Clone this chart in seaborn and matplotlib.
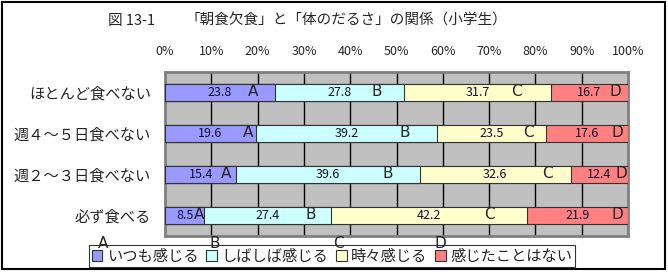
import matplotlib
matplotlib.use("Agg")
import matplotlib.pyplot as plt
from matplotlib.patches import Patch, Rectangle
import seaborn as sns
import pandas as pd
import numpy as np

categories = ['ほとんど食べない', '週４～５日食べない', '週２～３日食べない', '必ず食べる']
series_names = ['いつも感じる', 'しばしば感じる', '時々感じる', '感じたことはない']
always = [23.8, 19.6, 15.4, 8.5]
often = [27.8, 39.2, 39.6, 27.4]
sometimes = [31.7, 23.5, 32.6, 42.2]
never = [16.7, 17.6, 12.4, 21.9]
letters = ['A', 'B', 'C', 'D']
letter_pos = [[19.0, 45.8, 76.0, 97.2],
              [17.9, 51.8, 78.4, 97.8],
              [13.2, 48.2, 82.5, 98.5],
              [7.3, 31.5, 70.0, 97.6]]
xticks = list(range(0, 101, 10))
colors = ['#9999FF', '#CCFFFF', '#FFFFCC', '#FF8080']

sns.set_style("white")
plt.rcParams['font.family'] = ['Noto Sans CJK JP', 'DejaVu Sans']

fig = plt.figure(figsize=(6.68, 2.73), dpi=100)
ax = fig.add_axes([165/668, 1-236/273, (628-165)/668, (236-72)/273])
ax.set_facecolor('#C0C0C0')

series = [always, often, sometimes, never]
df = pd.DataFrame({'cat': categories})
cum = np.zeros(len(categories))
cums = []
for s in series:
    cum = cum + np.array(s)
    cums.append(cum.copy())
for j in range(len(series) - 1, -1, -1):
    df['v'] = cums[j]
    sns.barplot(data=df, x='v', y='cat', orient='h', color=colors[j], width=0.415,
                edgecolor='#333333', linewidth=0.8, saturation=1, ax=ax, zorder=3)

for xv in xticks[1:-1]:
    ax.axvline(xv, color='black', lw=1, zorder=1)

narrow = ['Liberation Sans Narrow', 'DejaVu Sans']
for i in range(len(categories)):
    left = 0.0
    for j, s in enumerate(series):
        v = s[i]
        ax.text(left + v/2, i, f'{v:.1f}', ha='center', va='center', fontsize=9,
                color='#111133', zorder=5)
        ax.text(letter_pos[i][j], i - 0.02, letters[j], ha='center', va='center', fontsize=11,
                family=narrow, zorder=5)
        left += v

ax.set_xlim(0, 100)
ax.set_ylim(3.5, -0.5)
ax.xaxis.tick_top()
ax.set_xticks(xticks)
ax.set_xticklabels([f'{v}%' for v in xticks], fontsize=9)
ax.tick_params(axis='x', length=0, pad=10)
ax.set_yticks(range(len(categories)))
ax.set_yticklabels(categories, fontsize=11)
ax.tick_params(axis='y', which='major', length=0, pad=10)
ax.set_yticks([0.5, 1.5, 2.5], minor=True)
ax.tick_params(axis='y', which='minor', direction='in', length=5, color='black', width=1)
ax.set_xlabel('')
ax.set_ylabel('')
for sp in ax.spines.values():
    sp.set_visible(True)
    sp.set_color('#808080')
    sp.set_linewidth(2)

fig.text(108/668, 1-21/273, '図 13-1', ha='left', va='center', fontsize=10.5)
fig.text(186/668, 1-21/273, '「朝食欠食」と「体のだるさ」の関係（小学生）', ha='left', va='center', fontsize=10.5)

handles = [Patch(facecolor=c, edgecolor='#333333', linewidth=0.8) for c in colors]
leg = fig.legend(handles, series_names, loc='center', bbox_to_anchor=(332/668, 1-256/273),
                 ncol=4, fontsize=11, frameon=True, fancybox=False, edgecolor='black',
                 handlelength=0.7, handleheight=0.7, handletextpad=0.3, columnspacing=0.5,
                 borderpad=0.15, borderaxespad=0)
leg.get_frame().set_linewidth(0.8)
leg.set_zorder(2)

for lx, lt in zip([103, 215, 338, 440], letters):
    fig.text(lx/668, 1-244/273, lt, ha='center', va='center', fontsize=11,
             family=narrow, zorder=10)

fig.patches.append(Rectangle((2/668, 1-269/273), 663/668, 267/273, transform=fig.transFigure,
                             fill=False, edgecolor='black', linewidth=1.5))

fig.savefig('out.png', dpi=100)
